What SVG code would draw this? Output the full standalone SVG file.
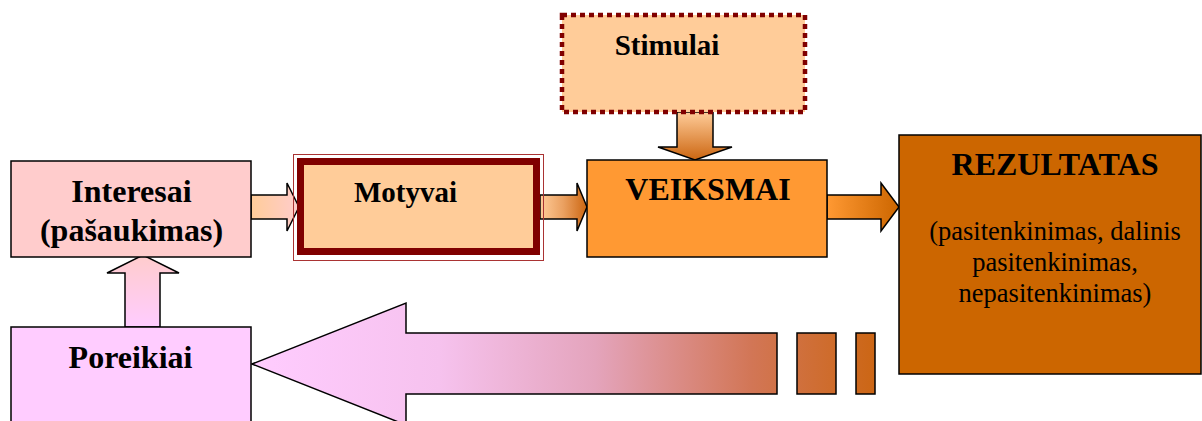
<svg xmlns="http://www.w3.org/2000/svg" width="1202" height="421" viewBox="0 0 1202 421">
<style>
.box{stroke:#000;stroke-width:1.5}
.arr{stroke:#000;stroke-width:1.5;stroke-linejoin:miter}
.tb{font-family:"Liberation Serif","Times New Roman",serif;font-weight:bold;fill:#000;text-anchor:middle}
.tr{font-family:"Liberation Serif","Times New Roman",serif;fill:#000;text-anchor:middle}
</style>
<defs>
<linearGradient id="gBig" gradientUnits="userSpaceOnUse" x1="252" y1="0" x2="876" y2="0">
<stop offset="0" stop-color="#ffccff"/>
<stop offset="0.3" stop-color="#f6c2ee"/>
<stop offset="0.55" stop-color="#e4a4bc"/>
<stop offset="0.8" stop-color="#d27656"/>
<stop offset="1" stop-color="#cc6614"/>
</linearGradient>
<linearGradient id="gUp" x1="0" y1="0" x2="0" y2="1">
<stop offset="0" stop-color="#ffcccc"/>
<stop offset="1" stop-color="#ffccff"/>
</linearGradient>
<linearGradient id="gA1" x1="0" y1="0" x2="1" y2="0">
<stop offset="0" stop-color="#ffcc99"/>
<stop offset="1" stop-color="#ffcccc"/>
</linearGradient>
<linearGradient id="gA2" x1="0" y1="0" x2="1" y2="0">
<stop offset="0" stop-color="#ffcc99"/>
<stop offset="0.5" stop-color="#eaa060"/>
<stop offset="1" stop-color="#cc6611"/>
</linearGradient>
<linearGradient id="gA3" x1="0" y1="0" x2="1" y2="0">
<stop offset="0" stop-color="#ff9933"/>
<stop offset="1" stop-color="#cc6600"/>
</linearGradient>
<linearGradient id="gDown" x1="0" y1="0" x2="0" y2="1">
<stop offset="0" stop-color="#ffcc99"/>
<stop offset="1" stop-color="#cc6611"/>
</linearGradient>
</defs>

<g id="connectors">
<path class="arr" fill="url(#gA1)" d="M251,195 H287 V183 L299,207 L287,231 V219 H251 Z"/>
<path class="arr" fill="url(#gA2)" d="M540,195 H577 V183 L587,207 L577,231 V219 H540 Z"/>
<path class="arr" fill="url(#gA3)" d="M827,195 H881 V183 L899,207 L881,231 V219 H827 Z"/>
<path class="arr" fill="url(#gDown)" d="M677,112 V147 H658 L695,160 L732,147 H713 V112 Z"/>
<path class="arr" fill="url(#gUp)" d="M125,327 V273 H107 L143,255 L179,273 H160 V327 Z"/>
<path class="arr" fill="url(#gBig)" d="M252,364 L406,303 V333 H777 V394 H406 V425 Z"/>
<rect class="arr" fill="url(#gBig)" x="797" y="333" width="39" height="61"/>
<rect class="arr" fill="url(#gBig)" x="856" y="333" width="19" height="61"/>
</g>

<g id="stimulai">
<rect x="562" y="15" width="243" height="97" fill="#ffcc99" stroke="#800000" stroke-width="4.5" stroke-dasharray="5 4"/>
<text class="tb" x="667" y="55" font-size="29">Stimulai</text>
</g>

<g id="interesai">
<rect class="box" x="11" y="161" width="240" height="96" fill="#ffcccc"/>
<text class="tb" x="131.5" y="202" font-size="32">Interesai</text>
<text class="tb" x="131.5" y="241" font-size="32">(pašaukimas)</text>
</g>

<g id="motyvai">
<rect x="293.5" y="154.5" width="250" height="106" fill="none" stroke="#a33" stroke-width="1"/>
<rect x="300.5" y="161.5" width="236" height="90" fill="#ffcc99" stroke="#800000" stroke-width="7"/>
<text class="tb" x="405.5" y="202" font-size="29">Motyvai</text>
</g>

<g id="veiksmai">
<rect class="box" x="587" y="160" width="240" height="97" fill="#ff9933"/>
<text class="tb" x="708" y="200" font-size="32">VEIKSMAI</text>
</g>

<g id="rezultatas">
<rect class="box" x="899" y="135" width="302" height="239" fill="#cc6600"/>
<text class="tb" x="1055" y="175" font-size="32">REZULTATAS</text>
<text class="tr" x="1055" y="240" font-size="26.5">(pasitenkinimas, dalinis</text>
<text class="tr" x="1055" y="271" font-size="26.5">pasitenkinimas,</text>
<text class="tr" x="1055" y="302" font-size="26.5">nepasitenkinimas)</text>
</g>

<g id="poreikiai">
<rect class="box" x="11" y="327" width="240" height="100" fill="#ffccff"/>
<text class="tb" x="130.5" y="368" font-size="32">Poreikiai</text>
</g>
</svg>
